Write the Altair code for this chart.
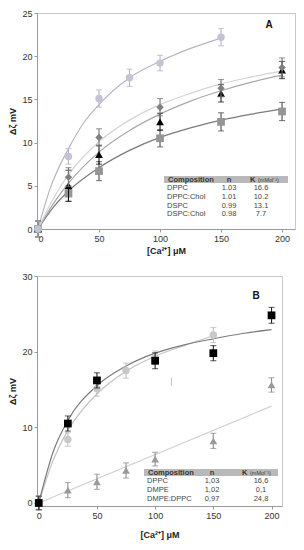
import altair as alt
import pandas as pd

FONT = "Liberation Sans"

# ---------------- Panel A data ----------------
A_X_DPPC = [0, 25, 50, 75, 100, 150]
A_Y_DPPC = [0, 8.4, 15.1, 17.5, 19.2, 22.2]
A_E_DPPC = [0.9, 0.9, 1.0, 1.0, 0.9, 1.0]

A_X_DPPCCHOL = [0, 25, 50, 100, 150, 200]
A_Y_DPPCCHOL = [0, 6.0, 10.6, 14.1, 16.3, 18.7]
A_E_DPPCCHOL = [0.9, 1.1, 1.0, 1.0, 1.0, 1.1]

A_X_DSPC = [0, 25, 50, 100, 150, 200]
A_Y_DSPC = [0, 5.0, 8.6, 12.4, 15.7, 18.4]
A_E_DSPC = [0.9, 1.8, 1.1, 1.0, 1.0, 1.0]

A_X_DSPCCHOL = [0, 25, 50, 100, 150, 200]
A_Y_DSPCCHOL = [0, 4.1, 6.7, 10.5, 12.4, 13.6]
A_E_DSPCCHOL = [0.9, 0.9, 1.1, 1.0, 1.05, 1.05]

# fitted curves
A_FX_DPPC = [0, 10, 25, 37.5, 50, 75, 100, 125, 150]
A_FY_DPPC = [0, 4.7, 9.3, 12.3, 14.4, 17.5, 19.4, 20.9, 22.1]
A_FX_OTHER = [0, 12.5, 25, 50, 75, 100, 125, 150, 175, 200]
A_FY_DPPCCHOL = [0, 3.5, 6.3, 10.1, 12.6, 14.4, 15.7, 16.8, 17.6, 18.3]
A_FY_DSPC = [0, 2.9, 5.3, 8.9, 11.4, 13.3, 14.8, 16.0, 17.0, 17.8]
A_FY_DSPCCHOL = [0, 2.5, 4.4, 7.1, 9.1, 10.6, 11.7, 12.6, 13.3, 13.9]

A_TABLE_COMP = ["DPPC", "DPPC:Chol", "DSPC", "DSPC:Chol"]
A_TABLE_N = ["1.03", "1.01", "0.99", "0.98"]
A_TABLE_K = ["16.6", "10.2", "13.1", "7.7"]

# ---------------- Panel B data ----------------
B_X_DPPC = [0, 25, 50, 75, 100, 150]
B_Y_DPPC = [0, 8.4, 15.1, 17.5, 19.2, 22.2]
B_E_DPPC = [0.9, 0.9, 1.0, 1.0, 0.9, 1.0]

B_X_MIX = [0, 25, 50, 100, 150, 200]
B_Y_MIX = [0, 10.5, 16.2, 18.8, 19.8, 24.8]
B_E_MIX = [0.9, 1.0, 1.0, 1.05, 1.0, 1.05]

B_X_DMPE = [0, 25, 50, 75, 100, 150, 200]
B_Y_DMPE = [0, 1.7, 2.8, 4.3, 5.8, 8.2, 15.6]
B_E_DMPE = [0.9, 1.0, 1.0, 1.0, 0.9, 1.0, 0.95]

B_FX_DPPC = [0, 12.5, 25, 37.5, 50, 75, 100, 125, 150]
B_FY_DPPC = [0, 5.7, 9.6, 12.3, 14.4, 17.4, 19.4, 20.8, 22.1]
B_FX_MIX = [0, 12.5, 25, 50, 75, 100, 125, 150, 175, 200]
B_FY_MIX = [0, 6.8, 10.9, 15.5, 18.1, 19.8, 20.9, 21.7, 22.4, 22.9]
B_FX_DMPE = [0, 200]
B_FY_DMPE = [0, 12.8]

B_STRAY_X = [114]
B_STRAY_LO = [15.5]
B_STRAY_HI = [16.6]

B_TABLE_COMP = ["DPPC", "DMPE", " DMPE:DPPC"]
B_TABLE_N = ["1,03", "1,02", "0,97"]
B_TABLE_K = ["16,6", "0,1", "24,8"]

X_TICKS = [0, 50, 100, 150, 200]
A_Y_TICKS = [0, 5, 10, 15, 20, 25]
B_Y_TICKS = [0, 5, 10, 15, 20, 25, 30]

X_TITLE = "[Ca²⁺] μM"
Y_TITLE = "Δζ mV"


def make_panel(series, fits, xdom, ydom, yticks, width, height, letter, letter_pos,
               table, xtitle_pad, extra=None):
    xs = alt.Scale(domain=xdom, nice=False, zero=False)
    ys = alt.Scale(domain=ydom, nice=False, zero=False)
    xenc = alt.X("x:Q", scale=xs,
                 axis=alt.Axis(values=X_TICKS, title=X_TITLE, titlePadding=xtitle_pad))
    yenc = alt.Y("y:Q", scale=ys, axis=alt.Axis(values=yticks, title=Y_TITLE))
    layers = []
    # fit lines
    for fx, fy, col in fits:
        df = pd.DataFrame({"x": fx, "y": fy})
        layers.append(alt.Chart(df).mark_line(color=col, strokeWidth=1.2, interpolate="monotone")
                      .encode(x=xenc, y=yenc))
    # header table
    (comp, nn, kk, box, cols) = table
    hx1, hx2, hy1, hy2 = box
    cx, nx, kx, khx = cols
    layers.append(alt.Chart(pd.DataFrame({"a": [0]})).mark_rect(color="#b9b9b9").encode(
        x=alt.value(hx1), x2=alt.value(hx2), y=alt.value(hy1), y2=alt.value(hy2)))
    hy = (hy1 + hy2) / 2
    hdr = pd.DataFrame({"t": ["Composition", "n"], "px": [cx, nx], "al": ["left", "center"]})
    layers.append(alt.Chart(hdr[hdr.al == "left"]).mark_text(
        font=FONT, fontSize=7.5, fontWeight="bold", color="#333", align="left", baseline="middle")
        .encode(x=alt.X("px:Q", scale=None), y=alt.value(hy), text="t:N"))
    layers.append(alt.Chart(hdr[hdr.al == "center"]).mark_text(
        font=FONT, fontSize=7.5, fontWeight="bold", color="#333", align="center", baseline="middle")
        .encode(x=alt.X("px:Q", scale=None), y=alt.value(hy), text="t:N"))
    layers.append(alt.Chart(pd.DataFrame({"t": ["K"]})).mark_text(
        font=FONT, fontSize=7.5, fontWeight="bold", color="#333", align="left", baseline="middle")
        .encode(x=alt.value(khx), y=alt.value(hy), text="t:N"))
    layers.append(alt.Chart(pd.DataFrame({"t": ["(mMol⁻¹)"]})).mark_text(
        font=FONT, fontSize=5.5, color="#444", align="left", baseline="middle")
        .encode(x=alt.value(khx + 8), y=alt.value(hy + 0.5), text="t:N"))
    row_h = 8.8
    rows = pd.DataFrame({"comp": comp, "n": nn, "k": kk,
                         "py": [hy2 + 5 + i * row_h for i in range(len(comp))]})
    txt = dict(font=FONT, fontSize=7.5, color="#444", baseline="middle")
    layers.append(alt.Chart(rows).mark_text(align="left", **txt).encode(
        x=alt.value(cx - 1), y=alt.Y("py:Q", scale=None), text="comp:N"))
    layers.append(alt.Chart(rows).mark_text(align="center", **txt).encode(
        x=alt.value(nx), y=alt.Y("py:Q", scale=None), text="n:N"))
    layers.append(alt.Chart(rows).mark_text(align="center", **txt).encode(
        x=alt.value(kx), y=alt.Y("py:Q", scale=None), text="k:N"))
    if extra is not None:
        layers.append(extra(xenc, ys))
    # error bars + markers
    for sx, sy, se, shape, size, mcol, ecol in series:
        df = pd.DataFrame({"x": sx, "y": sy,
                           "lo": [a - b for a, b in zip(sy, se)],
                           "hi": [a + b for a, b in zip(sy, se)]})
        layers.append(alt.Chart(df).mark_rule(color=ecol, strokeWidth=1.1).encode(
            x=xenc, y=alt.Y("lo:Q", scale=ys), y2="hi:Q"))
        for f in ("lo", "hi"):
            layers.append(alt.Chart(df).mark_tick(color=ecol, orient="horizontal", size=6,
                                                  thickness=1.1).encode(
                x=xenc, y=alt.Y(f + ":Q", scale=ys)))
        layers.append(alt.Chart(df).mark_point(shape=shape, size=size, filled=True, opacity=1,
                                               color=mcol).encode(x=xenc, y=yenc))
    layers.append(alt.Chart(pd.DataFrame({"t": [letter]})).mark_text(
        font=FONT, fontSize=10, fontWeight="bold", color="#111", align="center", baseline="middle")
        .encode(x=alt.value(letter_pos[0]), y=alt.value(letter_pos[1]), text="t:N"))
    return alt.layer(*layers).properties(width=width, height=height)


panel_a = make_panel(
    series=[
        (A_X_DSPCCHOL, A_Y_DSPCCHOL, A_E_DSPCCHOL, "square", 60, "#959595", "#4a4a4a"),
        (A_X_DSPC, A_Y_DSPC, A_E_DSPC, "triangle-up", 60, "#000000", "#1a1a1a"),
        (A_X_DPPCCHOL, A_Y_DPPCCHOL, A_E_DPPCCHOL, "diamond", 55, "#7f7f7f", "#707070"),
        (A_X_DPPC, A_Y_DPPC, A_E_DPPC, "circle", 55, "#c3c3d3", "#b4b4c6"),
    ],
    fits=[
        (A_FX_OTHER, A_FY_DSPCCHOL, "#7a7a7a"),
        (A_FX_OTHER, A_FY_DSPC, "#a8a8a8"),
        (A_FX_OTHER, A_FY_DPPCCHOL, "#d4d4d4"),
        (A_FX_DPPC, A_FY_DPPC, "#b6b6c8"),
    ],
    xdom=[-0.8, 210.6], ydom=[0, 25], yticks=A_Y_TICKS, width=258, height=216,
    letter="A", letter_pos=(232, 12),
    table=(A_TABLE_COMP, A_TABLE_N, A_TABLE_K, (127, 251, 163, 170), (131, 192, 224, 213)),
    xtitle_pad=3,
)


def b_extra(xenc, ys):
    df = pd.DataFrame({"x": B_STRAY_X, "lo": B_STRAY_LO, "hi": B_STRAY_HI})
    return alt.Chart(df).mark_rule(color="#c4c4c4", strokeWidth=1).encode(
        x=xenc, y=alt.Y("lo:Q", scale=ys), y2="hi:Q")


panel_b = make_panel(
    series=[
        (B_X_DMPE, B_Y_DMPE, B_E_DMPE, "triangle-up", 60, "#9a9a9a", "#8e8e8e"),
        (B_X_DPPC, B_Y_DPPC, B_E_DPPC, "circle", 55, "#c8c8c8", "#bdbdbd"),
        (B_X_MIX, B_Y_MIX, B_E_MIX, "square", 60, "#000000", "#222222"),
    ],
    fits=[
        (B_FX_DMPE, B_FY_DMPE, "#d0d0d0"),
        (B_FX_DPPC, B_FY_DPPC, "#c2c2c2"),
        (B_FX_MIX, B_FY_MIX, "#7c7c7c"),
    ],
    xdom=[-1.5, 209], ydom=[-0.4, 30], yticks=B_Y_TICKS, width=245, height=230,
    letter="B", letter_pos=(219, 20),
    table=(B_TABLE_COMP, B_TABLE_N, B_TABLE_K, (107, 241, 193, 200), (111, 175, 224, 205)),
    xtitle_pad=10,
    extra=b_extra,
)

chart = alt.vconcat(panel_a, panel_b, spacing=15).properties(padding=0).configure(
    font=FONT
).configure_view(stroke="#c8c8c8", strokeWidth=1).configure_axis(
    grid=False, domainColor="#9a9a9a", tickColor="#9a9a9a", tickSize=3,
    labelFont=FONT, labelFontSize=9, labelColor="#333", labelPadding=2,
    titleFont=FONT, titleFontSize=9, titleFontWeight="bold", titleColor="#222",
).configure_axisY(titlePadding=4)

chart.save("out.html", embed_options={"renderer": "svg", "actions": False})
